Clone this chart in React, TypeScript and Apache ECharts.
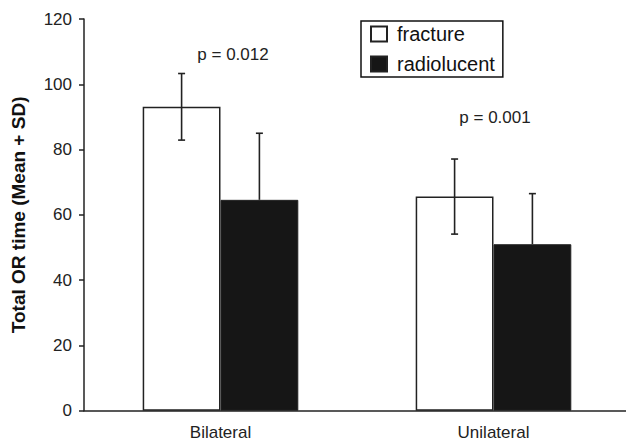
import React, { useEffect, useRef } from "react";
import * as echarts from "echarts";

const categories = ["Bilateral", "Unilateral"];
const fractureMean = [93.1, 65.6];
const fractureSD = [10.2, 11.5];
const radioMean = [64.6, 51.0];
const radioSD = [20.4, 15.5];
const pLabels = ["p = 0.012", "p = 0.001"];
const yMin = 0;
const yMax = 120;
const yInterval = 20;

const FONT = "'Liberation Sans', Arial, sans-serif";
const GAP_RATIO = 0.43;

function errorRender(sign: number, lowerToo: boolean) {
  return (params: any, api: any) => {
    const idx = api.value(0);
    const mean = api.value(1);
    const sd = api.value(2);
    const band = api.size([1, 0])[0];
    const off = (sign * band * (1 - GAP_RATIO)) / 4;
    const top = api.coord([idx, mean + sd]);
    const bot = api.coord([idx, lowerToo ? mean - sd : mean]);
    const x = top[0] + off;
    const cap = 3.5;
    const st = { stroke: "#222", lineWidth: 1.6 };
    const children: any[] = [
      { type: "line", shape: { x1: x, y1: top[1], x2: x, y2: bot[1] }, style: st },
      { type: "line", shape: { x1: x - cap, y1: top[1], x2: x + cap, y2: top[1] }, style: st },
    ];
    if (lowerToo) {
      children.push({ type: "line", shape: { x1: x - cap, y1: bot[1], x2: x + cap, y2: bot[1] }, style: st });
    }
    return { type: "group", children };
  };
}

export default function App() {
  const ref = useRef<HTMLDivElement>(null);
  useEffect(() => {
    if (!ref.current) return;
    const chart = echarts.init(ref.current, undefined, { renderer: "svg" });
    chart.setOption({
      animation: false,
      backgroundColor: "#fff",
      textStyle: { fontFamily: FONT },
      grid: { left: 84, top: 19, bottom: 30.3, right: -4, containLabel: false, outerBoundsMode: "none" },
      legend: {
        orient: "vertical",
        left: 361,
        top: 21,
        icon: "rect",
        itemWidth: 16,
        itemHeight: 15,
        itemGap: 10,
        padding: [3, 8, 3, 9],
        borderColor: "#111",
        borderWidth: 1.5,
        textStyle: { fontSize: 20, color: "#111", fontFamily: FONT, padding: [0, 0, 0, 5] },
        data: ["fracture", "radiolucent"],
      },
      xAxis: {
        type: "category",
        data: categories,
        axisLine: { lineStyle: { color: "#222", width: 1.5 } },
        axisTick: { length: 4, lineStyle: { color: "#222", width: 1.5 } },
        axisLabel: { fontSize: 17, color: "#222", margin: 13, fontFamily: FONT },
      },
      yAxis: {
        type: "value",
        min: yMin,
        max: yMax,
        interval: yInterval,
        splitLine: { show: false },
        axisLine: { show: true, lineStyle: { color: "#222", width: 1.5 } },
        axisTick: { show: true, length: 5, lineStyle: { color: "#222", width: 1.5 } },
        axisLabel: { fontSize: 17, color: "#222", margin: 12, fontFamily: FONT },
        name: "Total OR time (Mean + SD)",
        nameLocation: "middle",
        nameGap: 56,
        nameTextStyle: { fontSize: 19, fontWeight: "bold", color: "#111", fontFamily: FONT },
      },
      series: [
        {
          name: "fracture",
          type: "bar",
          data: fractureMean,
          barGap: "0%",
          barCategoryGap: GAP_RATIO * 100 + "%",
          itemStyle: { color: "#fff", borderColor: "#222", borderWidth: 1.5 },
        },
        {
          name: "radiolucent",
          type: "bar",
          data: radioMean,
          itemStyle: { color: "#161616", borderColor: "#222", borderWidth: 1 },
        },
        {
          type: "custom",
          z: 10,
          renderItem: errorRender(-1, true),
          data: categories.map((_, i) => [i, fractureMean[i], fractureSD[i]]),
          encode: { x: 0, y: 1 },
          silent: true,
        },
        {
          type: "custom",
          z: 10,
          renderItem: errorRender(1, false),
          data: categories.map((_, i) => [i, radioMean[i], radioSD[i]]),
          encode: { x: 0, y: 1 },
          silent: true,
        },
      ],
      graphic: [
        {
          type: "text",
          x: 233,
          y: 54,
          style: { text: pLabels[0], fontSize: 17, fontFamily: FONT, fill: "#222", textAlign: "center", textVerticalAlign: "middle" },
        },
        {
          type: "text",
          x: 495,
          y: 117,
          style: { text: pLabels[1], fontSize: 17, fontFamily: FONT, fill: "#222", textAlign: "center", textVerticalAlign: "middle" },
        },
      ],
    });
    return () => chart.dispose();
  }, []);
  return (
    <div
      ref={ref}
      style={{ position: "fixed", left: 0, top: 0, width: 626, height: 441, background: "#fff" }}
    />
  );
}
